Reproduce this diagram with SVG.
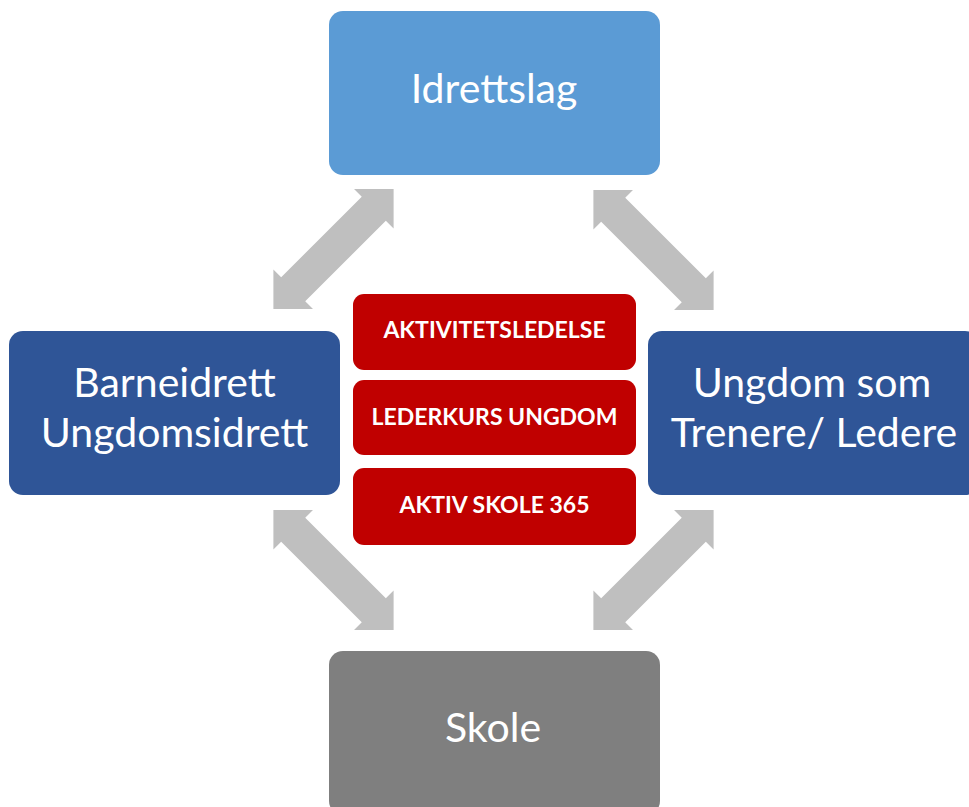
<svg xmlns="http://www.w3.org/2000/svg" width="969" height="807" viewBox="0 0 969 807">
<defs>
<style>
.big{font-family:Lato,"Open Sans","Liberation Sans",sans-serif;font-size:41px;fill:#fff;text-anchor:middle}
.red{font-family:Lato,"Liberation Sans",sans-serif;font-weight:bold;font-size:23px;fill:#fff;text-anchor:middle}
.arr{fill:#BFBFBF}
</style>
<polygon id="dbl" points="85,0 57,-28 57,-17 -57,-17 -57,-28 -85,0 -57,28 -57,17 57,17 57,28"/>
</defs>
<rect width="969" height="807" fill="#fff"/>
<g id="connectors">
<use href="#dbl" class="arr" transform="translate(333.5,249) rotate(-45)"/>
<use href="#dbl" class="arr" transform="translate(653.5,250) rotate(45)"/>
<use href="#dbl" class="arr" transform="translate(333.5,570) rotate(45)"/>
<use href="#dbl" class="arr" transform="translate(653.5,570) rotate(-45)"/>
</g>
<g id="idrettslag">
<rect x="329" y="11" width="331" height="164" rx="14" fill="#5B9BD5"/>
<text class="big" x="494" y="103">Idrettslag</text>
</g>
<g id="barneidrett">
<rect x="9" y="331" width="331" height="164" rx="14" fill="#2F5597"/>
<text class="big" x="174.5" y="397">Barneidrett</text>
<text class="big" x="174.5" y="447">Ungdomsidrett</text>
</g>
<g id="ungdom">
<rect x="648" y="331" width="331" height="164" rx="14" fill="#2F5597"/>
<text class="big" x="812" y="397">Ungdom som</text>
<text class="big" x="814" y="447">Trenere/ Ledere</text>
</g>
<g id="skole">
<rect x="329" y="651" width="331" height="164" rx="14" fill="#7F7F7F"/>
<text class="big" x="493" y="742">Skole</text>
</g>
<g id="aktivitetsledelse">
<rect x="353" y="294" width="283" height="76" rx="11" fill="#C00000"/>
<text class="red" x="494.5" y="338">AKTIVITETSLEDELSE</text>
</g>
<g id="lederkurs">
<rect x="353" y="380" width="283" height="75" rx="11" fill="#C00000"/>
<text class="red" x="494.5" y="425">LEDERKURS UNGDOM</text>
</g>
<g id="aktivskole">
<rect x="353" y="468" width="283" height="77" rx="11" fill="#C00000"/>
<text class="red" x="494.5" y="513">AKTIV SKOLE 365</text>
</g>
</svg>
